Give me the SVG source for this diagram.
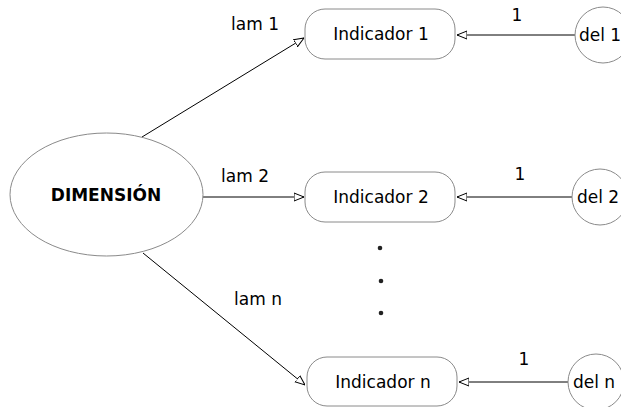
<svg xmlns="http://www.w3.org/2000/svg" width="621" height="407" viewBox="0 0 621 407">
<style>
text{font-family:"DejaVu Sans",sans-serif;font-size:17px;fill:#000}
.box{fill:#fff;stroke:#8a8a8a;stroke-width:1}
.edge{stroke:#000;stroke-width:1;fill:none;marker-end:url(#arr)}
.lbl{font-size:17px}
</style>
<defs>
<marker id="arr" viewBox="0 0 10 10" refX="10" refY="5" markerWidth="10" markerHeight="10" markerUnits="userSpaceOnUse" orient="auto">
<path d="M0,1 L10,5 L0,9 Z" fill="#fff" stroke="#000" stroke-width="1"/>
</marker>
</defs>
<g id="connectors">
<line class="edge" x1="142" y1="137" x2="304" y2="38"/>
<line class="edge" x1="203" y1="197" x2="304" y2="197"/>
<line class="edge" x1="143" y1="253" x2="305" y2="385"/>
<line class="edge" x1="575" y1="35" x2="457" y2="35"/>
<line class="edge" x1="572" y1="197" x2="457" y2="197"/>
<line class="edge" x1="568" y1="382" x2="459" y2="382"/>
<text class="lbl" x="255" y="30" text-anchor="middle">lam 1</text>
<text class="lbl" x="245" y="182" text-anchor="middle">lam 2</text>
<text class="lbl" x="258" y="305" text-anchor="middle">lam n</text>
<text class="lbl" x="517" y="21" text-anchor="middle">1</text>
<text class="lbl" x="520" y="180" text-anchor="middle">1</text>
<text class="lbl" x="524" y="365" text-anchor="middle">1</text>
</g>
<g id="dimension">
<ellipse class="box" cx="106.5" cy="194.5" rx="96.5" ry="61.5"/>
<text x="106" y="201" text-anchor="middle" font-weight="bold">DIMENSIÓN</text>
</g>
<g id="ind1">
<rect class="box" x="305" y="9" width="150" height="50" rx="20"/>
<text x="381" y="40" text-anchor="middle">Indicador 1</text>
</g>
<g id="ind2">
<rect class="box" x="305" y="172" width="150" height="50" rx="20"/>
<text x="381" y="203" text-anchor="middle">Indicador 2</text>
</g>
<g id="indn">
<rect class="box" x="307" y="357" width="150" height="49" rx="20"/>
<text x="383" y="388" text-anchor="middle">Indicador n</text>
</g>
<g id="del1">
<circle class="box" cx="603" cy="35" r="28"/>
<text x="600" y="41" text-anchor="middle">del 1</text>
</g>
<g id="del2">
<circle class="box" cx="600" cy="197" r="28"/>
<text x="598" y="203" text-anchor="middle">del 2</text>
</g>
<g id="deln">
<circle class="box" cx="596" cy="382" r="28"/>
<text x="594" y="388" text-anchor="middle">del n</text>
</g>
<g id="dots">
<circle cx="380" cy="248" r="2.3" fill="#222"/>
<circle cx="381" cy="281" r="2.3" fill="#222"/>
<circle cx="381" cy="313" r="2.3" fill="#222"/>
</g>
</svg>
